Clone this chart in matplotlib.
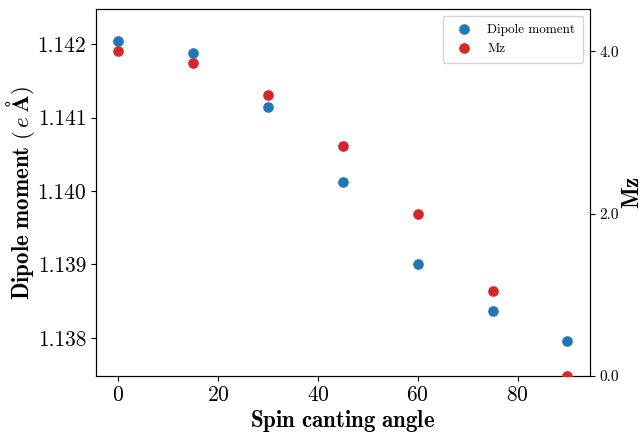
import matplotlib
matplotlib.use('Agg')
import matplotlib.pyplot as plt

angles = [0, 15, 30, 45, 60, 75, 90]
dipole = [1.14204, 1.14188, 1.14114, 1.14012, 1.13900, 1.13837, 1.13796]
mz = [4.0, 3.86, 3.46, 2.83, 2.0, 1.04, 0.0]

plt.rcParams['font.family'] = 'serif'
plt.rcParams['font.serif'] = ['cmr10', 'DejaVu Serif']
plt.rcParams['mathtext.fontset'] = 'cm'
plt.rcParams['axes.formatter.use_mathtext'] = True

fig, ax = plt.subplots(figsize=(6.44, 4.33), dpi=100)
fig.subplots_adjust(left=0.149, right=0.916, top=0.979, bottom=0.132)

h1 = ax.scatter(angles, dipole, s=44, color='tab:blue', label='Dipole moment', zorder=3)
ax.set_ylim(1.137483, 1.142476)
ax.set_xlabel(r'$\mathbf{Spin\ canting\ angle}$', fontsize=16.5, labelpad=2)
ax.set_ylabel(r'$\mathbf{Dipole\ moment\ (}\,e\;\mathbf{\AA)}$', fontsize=16.5, labelpad=0)
ax.set_yticks([1.138, 1.139, 1.140, 1.141, 1.142])
ax.set_yticklabels(['1.138', '1.139', '1.140', '1.141', '1.142'])
ax.tick_params(labelsize=15.5)

ax2 = ax.twinx()
h2 = ax2.scatter(angles, mz, s=44, color='tab:red', label='Mz', zorder=3)
ax2.set_ylim(0, 4.52)
ax2.set_yticks([0, 2, 4])
ax2.set_yticklabels(['0.0', '2.0', '4.0'])
ax2.tick_params(labelsize=11)
ax2.set_ylabel(r'$\mathbf{Mz}$', fontsize=16.5, labelpad=2)

ax2.legend(handles=[h1, h2], loc='upper right', fontsize=9.5, borderpad=0.6)

fig.savefig('out.png', dpi=100)
